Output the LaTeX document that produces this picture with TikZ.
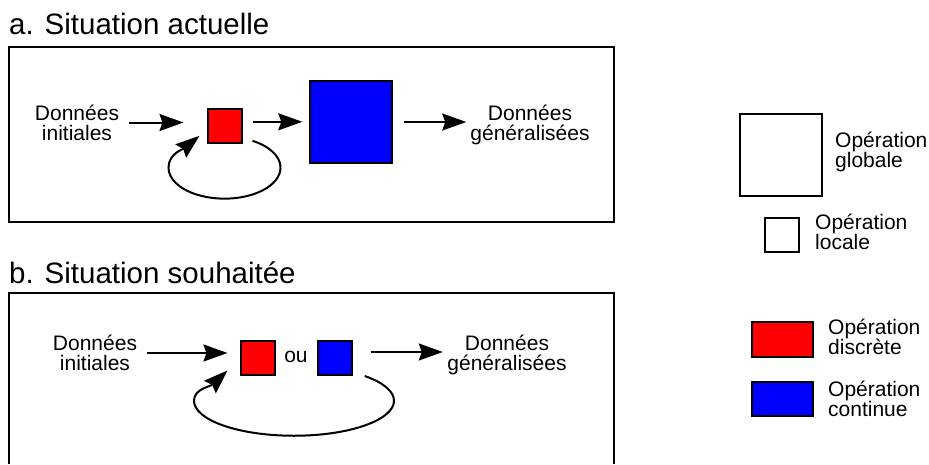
\documentclass[tikz,border=0pt]{standalone}
\usepackage{fontspec}
\setmainfont{Liberation Sans}
\usetikzlibrary{arrows.meta}

\begin{document}
\begin{tikzpicture}[x=1pt,y=-1pt]
    % Define styles
    \tikzstyle{frame} = [draw, line width=2pt]
    \tikzstyle{op} = [draw, line width=2pt, rectangle, minimum width=34pt, minimum height=34pt, inner sep=0pt]
    \tikzstyle{opglob} = [op, minimum width=82pt, minimum height=82pt]
    \tikzstyle{txt} = [align=center, inner sep=0pt, font=\fontsize{21}{20}\selectfont]
    \tikzstyle{legtxt} = [txt, align=left, anchor=west]
    \tikzstyle{title} = [inner sep=0pt, anchor=base west, font=\fontsize{29.5}{30}\selectfont]
    \tikzstyle{flow} = [line width=2pt, -{Stealth[length=24pt, width=17pt, inset=3pt]}]

    \useasboundingbox (0,0) rectangle (929,464);

    % a. Situation actuelle
    \node(titleA)[title] at (9,34) {a. Situation actuelle};
    \draw[frame] (9,47) rectangle (614,222);
    \node(inA)[txt] at (77,122.5) {Données\\initiales};
    \node(locA)[op, fill=red] at (224.5,125.8) {};
    \node(globA)[opglob, fill=blue] at (351.3,122) {};
    \node(outA)[txt] at (530,124.5) {Données\\généralisées};
    \draw[flow, shorten <=10pt, shorten >=23pt] (inA.east) -- (inA.east -| locA.west);
    \draw[flow, shorten <=10pt, shorten >=7pt] ([yshift=4pt]locA.east) -- ([yshift=4pt]locA.east -| globA.west);
    \draw[flow, shorten <=11pt, shorten >=4pt] (globA.east) -- (globA.east -| outA.west);
    \coordinate (loopA) at ([xshift=10pt,yshift=3pt]locA.south east);
    \coordinate (backA) at ([xshift=-7pt,yshift=8pt]locA.south west);
    \draw[flow] (loopA) arc[start angle=-60, end angle=180, x radius=56, y radius=31]
        .. controls +(0,-14) and +(-16,13) .. (backA);

    % b. Situation souhaitee
    \node(titleB)[title] at (9,283) {b. Situation souhaitée};
    \draw[frame] (9,464) -- (9,293) -- (614,293) -- (614,464);
    \node(inB)[txt] at (95,353) {Données\\initiales};
    \node(locB)[op, fill=red] at (257.5,358) {};
    \node(ou)[txt, anchor=base] at (296,362.5) {ou};
    \node(globB)[op, fill=blue] at (334.7,358) {};
    \node(outB)[txt] at (507,355) {Données\\généralisées};
    \draw[flow, shorten <=10pt, shorten >=12pt] (inB.east) -- (inB.east -| locB.west);
    \draw[flow, shorten <=18pt, shorten >=4.5pt] ([yshift=6pt]globB.east) -- ([yshift=6pt]globB.east -| outB.west);
    \coordinate (loopB) at ([xshift=12pt]globB.south east);
    \coordinate (backB) at ([xshift=-12pt,yshift=5.5pt]locB.south west);
    \draw[flow] (loopB) arc[start angle=-45, end angle=180, x radius=100, y radius=35]
        .. controls +(0,-12) and +(-17,16) .. (backB);

    % legend
    \node(glob)[opglob] at (781,155) {};
    \node(globTxt)[legtxt] at (835,152) {Opération\\globale};
    \node(loc)[op] at (781.5,234.5) {};
    \node(locTxt)[legtxt] at (815,231.5) {Opération\\locale};
    \node(disc)[op, fill=red, minimum width=61pt, minimum height=35pt] at (782.5,339.5) {};
    \node(discTxt)[legtxt] at (828,336.5) {Opération\\discrète};
    \node(cont)[op, fill=blue, minimum width=61pt, minimum height=34pt] at (782.5,399) {};
    \node(contTxt)[legtxt] at (828,398.5) {Opération\\continue};
\end{tikzpicture}
\end{document}
